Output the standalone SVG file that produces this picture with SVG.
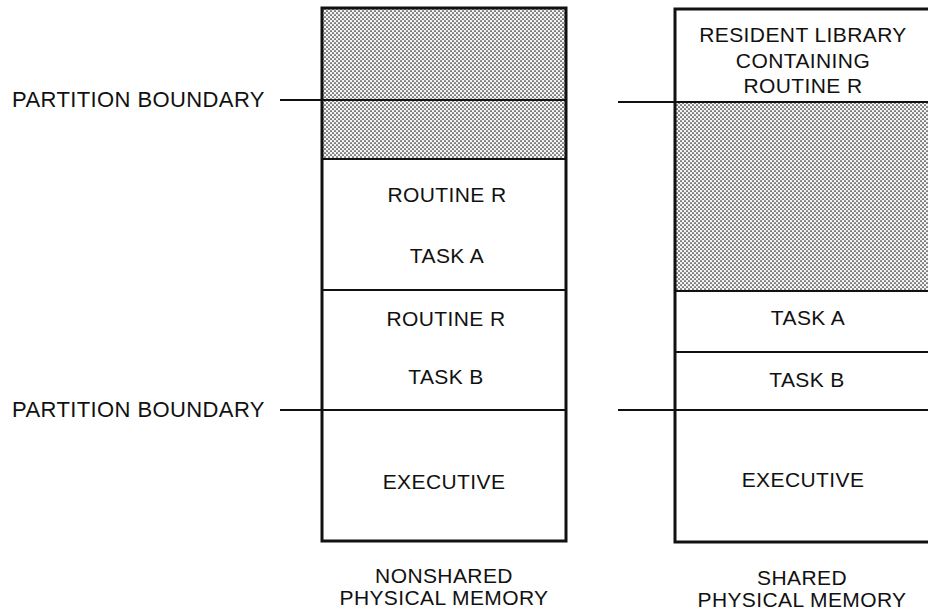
<svg xmlns="http://www.w3.org/2000/svg" width="928" height="611" viewBox="0 0 928 611">
<defs>
<pattern id="dots" width="4" height="4" patternUnits="userSpaceOnUse">
<rect width="4" height="4" fill="#f4f4f4"/>
<circle cx="1" cy="1" r="0.85" fill="#222"/>
<circle cx="3" cy="3" r="0.85" fill="#222"/>
</pattern>
</defs>
<style>
text{font-family:"Liberation Sans",Arial,sans-serif;font-size:21px;fill:#111;text-anchor:middle;letter-spacing:0.4px}
.lbl{text-anchor:start}
.box{fill:none;stroke:#111;stroke-width:3}
.div{stroke:#111;stroke-width:2}
</style>
<rect width="928" height="611" fill="#fff"/>
<g id="nonshared">
<rect x="322" y="8" width="244" height="151" fill="url(#dots)"/>
<rect class="box" x="322" y="8" width="244" height="533"/>
<line class="div" x1="322" y1="159" x2="566" y2="159"/>
<line class="div" x1="322" y1="290" x2="566" y2="290"/>
<text x="447" y="202">ROUTINE R</text>
<text x="447" y="263">TASK A</text>
<text x="446" y="326">ROUTINE R</text>
<text x="446" y="384">TASK B</text>
<text x="444" y="489">EXECUTIVE</text>
<text x="444" y="583">NONSHARED</text>
<text x="444" y="605">PHYSICAL MEMORY</text>
</g>
<g id="shared">
<rect x="675" y="102" width="260" height="189" fill="url(#dots)"/>
<rect class="box" x="675" y="9" width="262" height="533"/>
<line class="div" x1="675" y1="291" x2="928" y2="291"/>
<line class="div" x1="675" y1="352" x2="928" y2="352"/>
<text x="803" y="42">RESIDENT LIBRARY</text>
<text x="803" y="68">CONTAINING</text>
<text x="803" y="93">ROUTINE R</text>
<text x="808" y="325">TASK A</text>
<text x="807" y="387">TASK B</text>
<text x="803" y="487">EXECUTIVE</text>
<text x="802" y="585">SHARED</text>
<text x="802" y="607">PHYSICAL MEMORY</text>
</g>
<g id="boundary-labels">
<text class="lbl" x="12" y="107" style="font-size:22px">PARTITION BOUNDARY</text>
<text class="lbl" x="12" y="417" style="font-size:22px">PARTITION BOUNDARY</text>
</g>
<g id="connectors">
<line class="div" x1="280" y1="100" x2="566" y2="100"/>
<line class="div" x1="280" y1="410" x2="566" y2="410"/>
<line class="div" x1="618" y1="102" x2="928" y2="102"/>
<line class="div" x1="618" y1="410" x2="928" y2="410"/>
</g>
</svg>
